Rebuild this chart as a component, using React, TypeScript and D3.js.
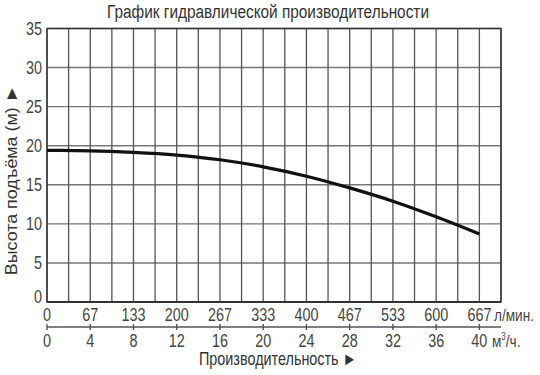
import React from "react";
import * as d3 from "d3";

const flowM3h = [0, 4, 8, 12, 16, 20, 24, 28, 32, 36, 40];
const headM = [19.4, 19.35, 19.15, 18.8, 18.2, 17.3, 16.1, 14.6, 12.9, 10.9, 8.7];
const lpmLabels = ["0", "67", "133", "200", "267", "333", "400", "467", "533", "600", "667"];
const m3hLabels = ["0", "4", "8", "12", "16", "20", "24", "28", "32", "36", "40"];
const yTicks = [0, 5, 10, 15, 20, 25, 30, 35];
const xGrid = d3.range(0, 43, 2);

const W = 540, H = 375;
const FONT = "'Liberation Sans', Arial, sans-serif";

function T(props: { x: number; y: number; size: number; anchor?: string; fill?: string; rot?: number; sx?: number; children: React.ReactNode }) {
  const { x, y, size, anchor = "start", fill = "#444", rot = 0, sx = 0.8, children } = props;
  return (
    <text transform={`translate(${x},${y}) rotate(${rot}) scale(${sx},1)`} textAnchor={anchor} fontSize={size} fill={fill}>
      {children}
    </text>
  );
}

export default function App() {
  const x = d3.scaleLinear().domain([0, 42]).range([47, 501]);
  const y = d3.scaleLinear().domain([0, 35]).range([302, 28.5]);
  const line = d3.line<number>()
    .x((_, i) => x(flowM3h[i]))
    .y((d) => y(d))
    .curve(d3.curveMonotoneX);
  const x0 = x(0), x1 = x(42);
  const axis2Y = 327;
  return (
    <svg width={W} height={H} style={{ position: "absolute", left: 0, top: 0, background: "#fff" }} fontFamily={FONT}>
      <T x={268} y={18} size={19} anchor="middle" fill="#333" sx={0.81}>График гидравлической производительности</T>
      {yTicks.map((t) => (
        <line key={"h" + t} x1={x0} x2={x1} y1={y(t)} y2={y(t)} stroke="#777" strokeWidth={1.4} />
      ))}
      {xGrid.map((t) => (
        <line key={"v" + t} x1={x(t)} x2={x(t)} y1={y(0)} y2={y(35)} stroke="#555" strokeWidth={1.3} />
      ))}
      <rect x={x0} y={y(35)} width={x1 - x0} height={y(0) - y(35)} fill="none" stroke="#333" strokeWidth={1.4} />
      <line x1={x0} x2={x1} y1={y(0)} y2={y(0)} stroke="#333" strokeWidth={2} />
      <path d={line(headM) || ""} fill="none" stroke="#111" strokeWidth={3.2} />
      {yTicks.map((t) => (
        <T key={"yl" + t} x={42} y={t === 0 ? y(t) + 1 : y(t) + 6} size={18} anchor="end">{t}</T>
      ))}
      {lpmLabels.map((l, i) => (
        <T key={"lp" + i} x={x(flowM3h[i])} y={321} size={18} anchor="middle">{l}</T>
      ))}
      <T x={494} y={321} size={17}>л/мин.</T>
      <line x1={x0} x2={x1} y1={axis2Y} y2={axis2Y} stroke="#555" strokeWidth={1.6} />
      {flowM3h.map((t) => (
        <line key={"t2" + t} x1={x(t)} x2={x(t)} y1={axis2Y - 3} y2={axis2Y + 3} stroke="#555" strokeWidth={1.4} />
      ))}
      {m3hLabels.map((l, i) => (
        <T key={"m3" + i} x={x(flowM3h[i])} y={347} size={18} anchor="middle">{l}</T>
      ))}
      <T x={492} y={347} size={17}>м<tspan dy={-7} fontSize={10}>3</tspan><tspan dy={7}>/ч.</tspan></T>
      <T x={199} y={365} size={18} fill="#333">Производительность ►</T>
      <T x={17} y={180} size={17} anchor="middle" rot={-90} sx={1.05} fill="#333">Высота подъёма (м) ►</T>
    </svg>
  );
}
